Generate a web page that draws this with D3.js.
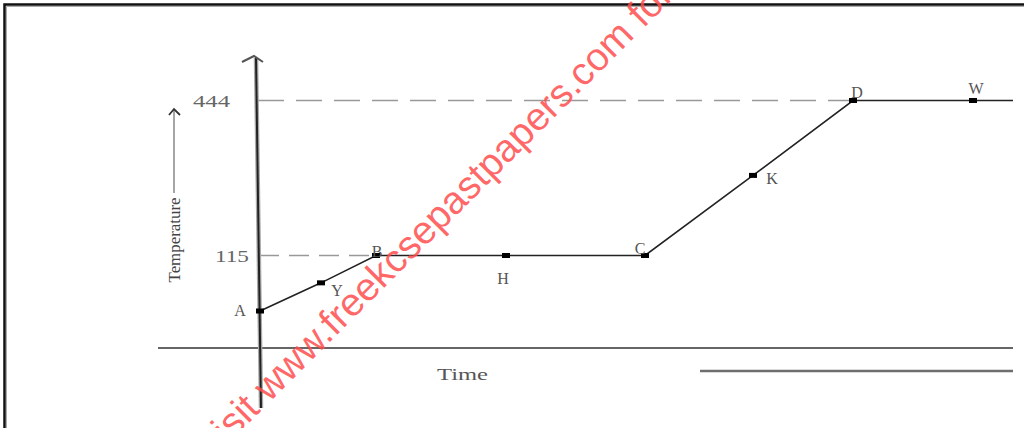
<!DOCTYPE html>
<html><head><meta charset="utf-8">
<script src="https://cdn.jsdelivr.net/npm/d3@7"></script>
<style>html,body{margin:0;padding:0;background:#fff;overflow:hidden}</style>
</head><body>
<script>
// ---- data ----
const pointNames = ["A", "Y", "B", "H", "C", "K", "D", "W"];
const pointTimes = [0.2, 6.3, 11.8, 24.8, 38.7, 49.5, 59.5, 71.5];
const pointTemps = [46, 81, 115, 115, 115, 285, 444, 444];
const endTime = 75.5;
const tickLabels = ["444", "115"];
const tickValues = [444, 115];
const xLabel = "Time";
const yLabel = "Temperature";
const watermark = "visit www.freekcsepastpapers.com for more";

const W = 1024, H = 428;
const svg = d3.select("body").append("svg").attr("width", W).attr("height", H);

const x = d3.scaleLinear().domain([0, 75.5]).range([258, 1013]);
const y = d3.scaleLinear().domain([0, 115, 444]).range([348, 255.5, 100.5]);

// border
svg.append("path").attr("d", `M4.5,${H} V4.5 H${W}`).attr("fill","none").attr("stroke","#111").attr("stroke-width",2.5);
svg.append("path").attr("d", `M6.5,${H} V6.5 H${W}`).attr("fill","none").attr("stroke","#aaa").attr("stroke-width",1);

// horizontal axis
svg.append("line").attr("x1",158).attr("x2",1013).attr("y1",y(0)).attr("y2",y(0))
  .attr("stroke","#666").attr("stroke-width",2);
// second line below
svg.append("line").attr("x1",x(44.2)).attr("x2",1013).attr("y1",371).attr("y2",371)
  .attr("stroke","#6e6e6e").attr("stroke-width",2.5);

// dashed guides
svg.append("line").attr("x1",258).attr("x2",x(pointTimes[6])).attr("y1",y(444)).attr("y2",y(444))
  .attr("stroke","#999").attr("stroke-width",1.5).attr("stroke-dasharray","26,12");
svg.append("line").attr("x1",259).attr("x2",x(pointTimes[2])).attr("y1",y(115)).attr("y2",y(115))
  .attr("stroke","#999").attr("stroke-width",1.3).attr("stroke-dasharray","20,10");

// vertical axis
svg.append("line").attr("x1",256).attr("x2",261).attr("y1",58).attr("y2",408)
  .attr("stroke","#aaa").attr("stroke-width",4.5);
svg.append("line").attr("x1",256).attr("x2",261).attr("y1",58).attr("y2",408)
  .attr("stroke","#222").attr("stroke-width",2);
svg.append("path").attr("d","M242,62 L254,56 L263,62").attr("fill","none").attr("stroke","#555").attr("stroke-width",2);

// tick labels
svg.selectAll("text.tick").data(tickValues).enter().append("text")
  .attr("x",(d,i)=>i===0?193:215).attr("y",d=>y(d)+6)
  .attr("textLength",(d,i)=>i===0?37:34).attr("lengthAdjust","spacingAndGlyphs")
  .attr("font-family","Liberation Serif").attr("font-size",17).attr("fill","#666")
  .text((d,i)=>tickLabels[i]);

// line
const pts = pointTimes.map((t,i)=>[x(t), y(pointTemps[i])]);
pts.push([x(endTime), y(pointTemps[pointTemps.length-1])]);
svg.append("path").attr("d", d3.line()(pts)).attr("fill","none").attr("stroke","#222").attr("stroke-width",1.6);

// markers
svg.selectAll("rect.m").data(pointTimes).enter().append("rect")
  .attr("x",d=>x(d)-4).attr("y",(d,i)=>y(pointTemps[i])-2.5).attr("width",8).attr("height",5).attr("fill","#000");

// point labels
const labelOffsets = [[-20,5],[16,13],[1,1],[-3,28],[-5,-2],[19,9],[4,-3],[3,-7]];
svg.selectAll("text.pl").data(pointNames).enter().append("text")
  .attr("x",(d,i)=>x(pointTimes[i])+labelOffsets[i][0])
  .attr("y",(d,i)=>y(pointTemps[i])+labelOffsets[i][1])
  .attr("text-anchor","middle").attr("font-family","Liberation Serif").attr("font-size",16).attr("fill","#555")
  .text(d=>d);

// y label and arrow
svg.append("text").attr("transform","translate(180,240) rotate(-90)").attr("text-anchor","middle")
  .attr("textLength",85).attr("lengthAdjust","spacingAndGlyphs")
  .attr("font-family","Liberation Serif").attr("font-size",16).attr("fill","#444").text(yLabel);
svg.append("line").attr("x1",174).attr("x2",174).attr("y1",193).attr("y2",110).attr("stroke","#888").attr("stroke-width",1.5);
svg.append("path").attr("d","M169,115 L174,109 L180,115").attr("fill","none").attr("stroke","#333").attr("stroke-width",1.8);

// x label
svg.append("text").attr("x",437).attr("y",380)
  .attr("textLength",51).attr("lengthAdjust","spacingAndGlyphs")
  .attr("font-family","Liberation Serif").attr("font-size",17).attr("fill","#555").text(xLabel);

// watermark
svg.append("text").attr("transform","translate(214,458) rotate(-45)")
  .attr("font-family","Liberation Sans").attr("font-size",39).attr("fill","#ff4d4d").attr("fill-opacity",0.85)
  .text(watermark);
</script>
</body></html>
